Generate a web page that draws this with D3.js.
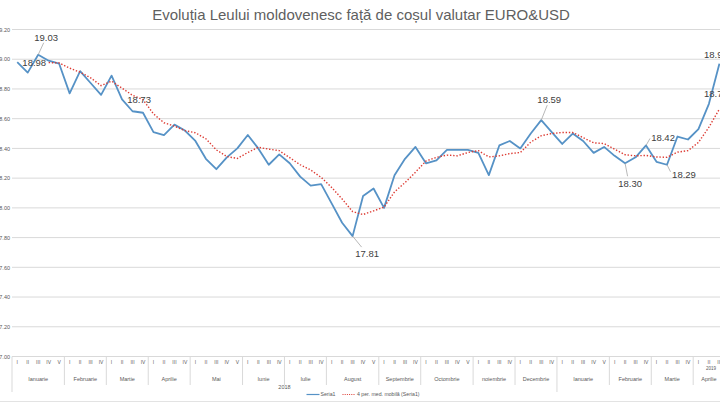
<!DOCTYPE html>
<html>
<head>
<meta charset="utf-8">
<script src="https://cdn.jsdelivr.net/npm/d3@7"></script>
<style>
  html, body { margin: 0; padding: 0; background: #ffffff; }
  svg { display: block; font-family: "Liberation Sans", Arial, sans-serif; }
</style>
</head>
<body>
<svg id="chart" width="720" height="404"></svg>
<script>
// ---------------- DATA ----------------
const title = "Evoluția Leului moldovenesc față de coșul valutar EURO&USD";

const months = ["Ianuarie","Februarie","Martie","Aprilie","Mai","Iunie","Iulie","August",
                "Septembrie","Octombrie","noiembrie","Decembrie",
                "Ianuarie","Februarie","Martie","Aprilie"];
const weeksPerMonth = [5,4,4,4,5,4,4,5,4,5,4,4,5,4,4,3];
const weekNames = ["I","II","III","IV","V"];
const years = ["2018","2019"];
const monthsPerYear = [12,4];

const seria1 = [18.98,18.91,19.03,18.99,18.97,18.77,18.92,18.84,18.76,18.89,
                18.73,18.65,18.64,18.51,18.49,18.56,18.52,18.45,18.33,18.26,
                18.34,18.40,18.49,18.40,18.29,18.36,18.30,18.21,18.15,18.16,
                18.03,17.90,17.81,18.08,18.13,18.00,18.22,18.33,18.41,18.30,
                18.32,18.39,18.39,18.39,18.37,18.22,18.42,18.45,18.40,18.50,
                18.59,18.51,18.43,18.50,18.45,18.37,18.41,18.35,18.30,18.34,
                18.42,18.31,18.29,18.48,18.46,18.53,18.70,18.97];

const yTicks = [17.00,17.20,17.40,17.60,17.80,18.00,18.20,18.40,18.60,18.80,19.00,19.20];

const labeledPoints = [0,2,10,32,50,58,60,62,66,67];

const legendNames = ["Seria1","4 per. med. mobilă (Seria1)"];

// 4-period moving average trendline of Seria1 (as Excel computes it)
const maPeriod = 4;

// ---------------- LAYOUT ----------------
const svg = d3.select("#chart");
const W = 720, H = 404;
const plotLeft = 12, step = 10.48;
const yTop = 29.5, yBottom = 356.5;

const blue = "#5692c6";
const red = "#dd3b33";
const gridColor = "#d9d9d9";
const textGrey = "#595959";

svg.append("rect").attr("width", W).attr("height", H).attr("fill", "#fff");

// categories
const cats = [];
months.forEach((m, mi) => {
  for (let w = 0; w < weeksPerMonth[mi]; w++) cats.push({month: mi, week: weekNames[w]});
});
const idx = d3.range(cats.length);

const x = d3.scaleBand().domain(idx).range([plotLeft, plotLeft + step * cats.length]).padding(0);
const xc = i => x(i) + x.bandwidth() / 2;
const y = d3.scaleLinear().domain([17, 19.2]).range([yBottom, yTop]);

// title
svg.append("text")
  .attr("x", 361).attr("y", 19.5)
  .attr("text-anchor", "middle")
  .attr("font-size", 15)
  .attr("fill", "#5f5f5f")
  .text(title);

// gridlines
svg.append("g").selectAll("line").data(yTicks).join("line")
  .attr("x1", plotLeft).attr("x2", W)
  .attr("y1", d => y(d)).attr("y2", d => y(d))
  .attr("stroke", gridColor).attr("stroke-width", 1);

// y axis labels
const yAxis = d3.axisLeft(y).tickValues(yTicks).tickFormat(d3.format(".2f")).tickSize(0).tickPadding(2);
const gy = svg.append("g").attr("transform", `translate(${plotLeft},0)`).call(yAxis);
gy.select(".domain").remove();
gy.selectAll("text").attr("font-size", 5.5).attr("fill", textGrey)
  .attr("font-family", "Liberation Sans, Arial, sans-serif");

// x axis: week labels
const xAxis = d3.axisBottom(x).tickFormat(i => cats[i].week).tickSize(0).tickPadding(4);
const gx = svg.append("g").attr("transform", `translate(0,${yBottom})`).call(xAxis);
gx.select(".domain").remove();
gx.selectAll("text").attr("font-size", 5).attr("fill", textGrey)
  .attr("font-family", "Liberation Sans, Arial, sans-serif");

// month groups
let start = 0;
const monthGroups = months.map((m, mi) => {
  const g = {name: m, start: start, end: start + weeksPerMonth[mi]};
  start += weeksPerMonth[mi];
  return g;
});
const sepX = i => plotLeft + step * i;

// month separators (year boundaries extend to the year row)
svg.append("g").selectAll("line").data(monthGroups).join("line")
  .attr("x1", d => sepX(d.start)).attr("x2", d => sepX(d.start))
  .attr("y1", yBottom)
  .attr("y2", (d, i) => (i === 0 || i === monthsPerYear[0]) ? 392 : 385)
  .attr("stroke", gridColor).attr("stroke-width", 1);

svg.append("g").selectAll("text").data(monthGroups).join("text")
  .attr("x", d => (sepX(d.start) + sepX(d.end)) / 2)
  .attr("y", 381)
  .attr("text-anchor", "middle")
  .attr("font-size", 5.5).attr("fill", textGrey)
  .text(d => d.name);

// year labels
svg.append("text").attr("x", (sepX(0) + sepX(monthGroups[monthsPerYear[0] - 1].end)) / 2).attr("y", 389)
  .attr("text-anchor", "middle").attr("font-size", 5.5).attr("fill", textGrey).text(years[0]);
svg.append("text").attr("x", 716).attr("y", 369.5)
  .attr("text-anchor", "end").attr("font-size", 4.5).attr("fill", textGrey).text(years[1]);

// bottom border of chart area
svg.append("line").attr("x1", 0).attr("x2", W).attr("y1", 401.5).attr("y2", 401.5)
  .attr("stroke", "#e3e3e3").attr("stroke-width", 1);

// moving average
const ma = seria1.map((v, i) => i < maPeriod - 1 ? null : d3.mean(seria1.slice(i - maPeriod + 1, i + 1)));

const lineGen = d3.line().defined(d => d[1] !== null).x(d => xc(d[0])).y(d => y(d[1]));

svg.append("path")
  .datum(seria1.map((v, i) => [i, v]))
  .attr("d", lineGen)
  .attr("fill", "none").attr("stroke", blue).attr("stroke-width", 1.8)
  .attr("stroke-linejoin", "round");

svg.append("path")
  .datum(ma.map((v, i) => [i, v]))
  .attr("d", lineGen)
  .attr("fill", "none").attr("stroke", red).attr("stroke-width", 1.4)
  .attr("stroke-dasharray", "1.4 1.8");

// data labels (offsets of label centre from point, leader end point offsets)
const labelLayout = {
  0:  {dx: 17,  dy: 0.5,   leader: null},
  2:  {dx: 8,   dy: -17.5, leader: [5.5, -12]},
  10: {dx: 17,  dy: 0.3,   leader: null},
  32: {dx: 14.5,dy: 17,    leader: [9, 11]},
  50: {dx: 8,   dy: -21,   leader: [6, -15]},
  58: {dx: 5,   dy: 20,    leader: [2.5, 13]},
  60: {dx: 17,  dy: -8.3,  leader: [4, -7]},
  62: {dx: 17,  dy: 9.7,   leader: [3.5, 7]},
  66: {dx: 7,   dy: -10.7, leader: null},
  67: {dx: -3.5,dy: -9,    leader: null}
};

const gl = svg.append("g");
labeledPoints.forEach(i => {
  const L = labelLayout[i];
  const px = xc(i), py = y(seria1[i]);
  if (L.leader) {
    gl.append("line")
      .attr("x1", px).attr("y1", py)
      .attr("x2", px + L.leader[0]).attr("y2", py + L.leader[1])
      .attr("stroke", "#a6a6a6").attr("stroke-width", 0.8);
  }
  gl.append("text")
    .attr("x", px + L.dx).attr("y", py + L.dy + 3.4)
    .attr("text-anchor", "middle")
    .attr("font-size", 9.5).attr("fill", "#404040")
    .text(seria1[i].toFixed(2));
});

// legend
const lg = svg.append("g");
lg.append("line").attr("x1", 306.5).attr("x2", 319.5).attr("y1", 394.5).attr("y2", 394.5)
  .attr("stroke", blue).attr("stroke-width", 1.2);
lg.append("text").attr("x", 320.5).attr("y", 396.3).attr("font-size", 5.2).attr("fill", textGrey).text(legendNames[0]);
lg.append("line").attr("x1", 342.5).attr("x2", 355.5).attr("y1", 394.5).attr("y2", 394.5)
  .attr("stroke", red).attr("stroke-width", 1).attr("stroke-dasharray", "1 1.2");
lg.append("text").attr("x", 357).attr("y", 396.3).attr("font-size", 5.2).attr("fill", textGrey).text(legendNames[1]);
</script>
</body>
</html>
